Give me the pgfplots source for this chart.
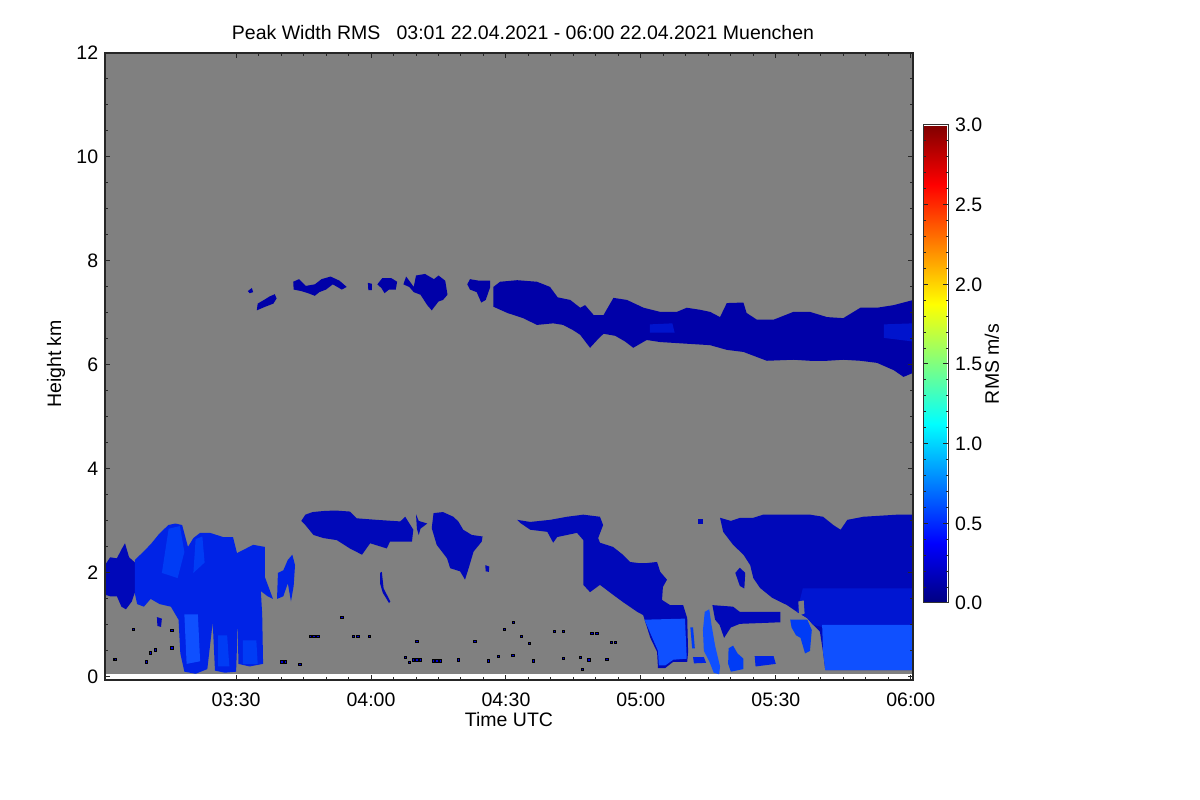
\documentclass[border=0pt]{standalone}
\usepackage{fontspec}
\setmainfont{Liberation Sans}
\usepackage{pgfplots}
\pgfplotsset{compat=1.18}
\pgfplotsset{/pgf/number format/assume math mode=true}
\definecolor{bg}{RGB}{128,128,128}
\definecolor{cUp}{RGB}{0,0,168}
\definecolor{cUpL}{RGB}{0,20,205}
\definecolor{cDk}{RGB}{0,8,185}
\definecolor{cMid}{RGB}{0,35,230}
\definecolor{cMidR}{RGB}{0,22,210}
\definecolor{cMid2}{RGB}{0,60,245}
\definecolor{cLt}{RGB}{15,80,255}
\definecolor{cSpk}{RGB}{0,0,215}
\newcommand{\fs}{\fontsize{11.7}{14}\selectfont}
\begin{document}
\fs
\begin{tikzpicture}[x=0.6pt,y=0.6pt]
\path[use as bounding box] (0,0) rectangle (1200,800);
\begin{axis}[
  at={(63pt,72pt)}, anchor=south west,
  width=484.8pt, height=376.2pt, scale only axis,
  xmin=0.85, xmax=180.5, ymin=-0.06, ymax=12,
  axis on top,
  axis line style={line width=0.7pt, black!85},
  tick style={black!85, line width=0.6pt},
  major tick length=3pt, minor tick length=1.8pt,
  xtick={30,60,90,120,150,180},
  xticklabels={03:30,04:00,04:30,05:00,05:30,06:00},
  xticklabel style={yshift=-3.5pt},
  minor x tick num=5,
  ytick={0,2,4,6,8,10,12},
  minor y tick num=3,
  tick label style={font=\fs},
  point meta min=0, point meta max=3,
  colormap/jet,
  colorbar,
  colorbar style={
    at={(parent axis.north east)}, anchor=north west,
    xshift=-2.4pt, yshift=-43.2pt,
    width=15pt, height=286.8pt, scale only axis,
    ytick={0,0.5,1,1.5,2,2.5,3},
    minor y tick num=4,
    major tick length=3pt, minor tick length=1.5pt,
    axis line style={line width=0.6pt, black!80},
    yticklabel style={font=\fs,
      /pgf/number format/.cd, fixed, fixed zerofill, precision=1, assume math mode=true},
  },
]
% background
\addplot[fill=bg, draw=none] coordinates {(0,0.06) (181,0.06) (181,12.2) (0,12.2)} -- cycle;

% ---------- upper layer ----------
\addplot[fill=cUp, draw=none] coordinates {
(87.2,7.50) (88.7,7.60) (92.5,7.63) (96.9,7.60) (99.8,7.50) (101.5,7.30) (104.3,7.25) (106.5,7.10) (107.6,7.15) (109.5,6.96) (111.7,6.96) (113.9,7.29) (116.9,7.25) (120.6,7.10) (124.3,7.02) (128.0,7.02) (130.2,7.10) (133.2,7.06) (135.4,7.02) (137.6,6.92) (139.1,7.19) (142.8,7.20) (143.5,7.00) (145.8,6.87) (149.5,6.87) (153.9,7.02) (157.6,7.02) (161.4,6.92) (165.0,6.90) (168.8,7.10) (172.5,7.10) (176.2,7.15) (180.6,7.25)
(180.6,5.85) (178.4,5.77) (176.2,5.90) (172.5,6.04) (168.8,6.08) (165.0,6.10) (161.4,6.08) (157.6,6.08) (153.9,6.10) (148.0,6.08) (142.8,6.25) (139.1,6.29) (135.4,6.38) (131.7,6.40) (128.0,6.42) (124.3,6.44) (121.3,6.48) (118.3,6.33) (116.5,6.45) (114.3,6.56) (111.7,6.60) (110.5,6.50) (108.7,6.33) (106.5,6.58) (104.9,6.67) (102.7,6.77) (100.5,6.80) (96.9,6.77) (93.8,6.90) (90.3,7.00) (87.2,7.12)} -- cycle;
\addplot[fill=cUpL, draw=none] coordinates {(122,6.78) (127,6.80) (127.5,6.62) (122,6.62)} -- cycle;
\addplot[fill=cUpL, draw=none] coordinates {(174,6.78) (180.6,6.80) (180.6,6.45) (174,6.52)} -- cycle;
\addplot[fill=cUp, draw=none] coordinates {(34.6,7.05) (34.8,7.18) (36.2,7.25) (37.5,7.32) (38.6,7.36) (39.0,7.28) (38.3,7.18) (36.5,7.12)} -- cycle;
\addplot[fill=cUp, draw=none] coordinates {(32.6,7.42) (33.5,7.48) (33.8,7.40) (33.0,7.38)} -- cycle;
\addplot[fill=cUp, draw=none] coordinates {(42.7,7.60) (44.0,7.65) (45.5,7.52) (47.5,7.55) (49.0,7.65) (51.0,7.70) (53.0,7.62) (54.6,7.50) (53.5,7.45) (51.5,7.55) (50.0,7.45) (48.5,7.40) (47.5,7.33) (46.0,7.38) (44.5,7.42) (42.8,7.45)} -- cycle;
\addplot[fill=cUp, draw=none] coordinates {(59.3,7.58) (60.2,7.56) (60.2,7.44) (59.4,7.44)} -- cycle;
\addplot[fill=cUp, draw=none] coordinates {(61.4,7.55) (62.5,7.67) (64.5,7.67) (65.8,7.60) (65.5,7.45) (64.0,7.45) (63.0,7.38) (62.3,7.48)} -- cycle;
\addplot[fill=cUp, draw=none] coordinates {(67.2,7.55) (67.8,7.70) (68.5,7.62) (69.5,7.50) (70.0,7.72) (72.0,7.75) (74.0,7.65) (75.0,7.72) (76.5,7.62) (77.0,7.35) (76.0,7.25) (75.0,7.22) (73.5,7.05) (72.5,7.15) (71.0,7.35) (69.5,7.40) (68.5,7.50)} -- cycle;
\addplot[fill=cUp, draw=none] coordinates {(81.4,7.55) (82.0,7.65) (84.0,7.62) (86.5,7.62) (86.5,7.50) (85.5,7.25) (84.5,7.20) (83.5,7.40) (82.0,7.45)} -- cycle;

% ---------- lower left cluster ----------
\addplot[fill=cDk, draw=none] coordinates {(0.85,1.58) (0.85,2.15) (2.0,2.30) (3.5,2.28) (4.5,2.45) (5.3,2.57) (6.2,2.30) (7.5,2.20) (7.8,1.70) (6.8,1.45) (5.5,1.30) (4.5,1.35) (3.5,1.55) (2.0,1.55)} -- cycle;
\addplot[fill=cMid, draw=none] coordinates {(7.5,1.60) (7.5,2.25) (9.3,2.40) (11.0,2.55) (12.7,2.73) (14.9,2.92) (16.5,2.95) (18.0,2.92) (19.3,2.50) (20.5,2.67) (22.0,2.77) (24.2,2.77) (27.1,2.69) (29.3,2.69) (30.2,2.38) (33.8,2.54) (36.4,2.50) (36.4,1.92) (38.2,1.50) (37.0,1.55) (35.5,1.65) (35.8,1.20) (36.0,0.25) (33.0,0.20) (30.5,0.25) (30.4,1.10) (30.0,0.10) (27.5,0.08) (25.3,0.12) (24.8,1.05) (23.6,0.15) (21.0,0.06) (18.5,0.10) (17.6,0.45) (17.2,1.10) (15.5,1.35) (13.0,1.40) (11.0,1.50) (9.5,1.35) (8.0,1.40)} -- cycle;
\addplot[fill=cLt, draw=none] coordinates {(18.5,1.20) (21.5,1.20) (22.0,0.30) (19.0,0.25)} -- cycle;
\addplot[fill=cMid2, draw=none] coordinates {(26.0,0.80) (28.0,0.80) (28.5,0.20) (26.0,0.20)} -- cycle;
\addplot[fill=cMid2, draw=none] coordinates {(31.5,0.70) (34.5,0.70) (34.8,0.25) (31.5,0.25)} -- cycle;
\addplot[fill=cMid2, draw=none] coordinates {(13.5,2.00) (15.0,2.85) (17.5,2.90) (18.5,2.40) (17.0,1.90)} -- cycle;
\addplot[fill=cMid2, draw=none] coordinates {(20.5,2.00) (21.0,2.65) (22.5,2.70) (23.0,2.20)} -- cycle;
\addplot[fill=cMid, draw=none] coordinates {(39.1,1.50) (39.3,2.00) (40.5,2.05) (41.5,2.25) (42.5,2.35) (43.1,2.15) (42.8,1.75) (42.2,1.45) (41.5,1.80) (40.5,1.55)} -- cycle;
\addplot[fill=cDk, draw=none] coordinates {(12.4,1.15) (13.5,1.12) (13.3,0.96) (12.5,0.98)} -- cycle;

% ---------- lower middle ----------
\addplot[fill=cDk, draw=none] coordinates {(44.5,3.00) (45.4,3.12) (47.0,3.17) (49.4,3.19) (52.0,3.20) (55.3,3.18) (56.8,3.05) (61.3,3.02) (66.5,2.99) (67.6,3.08) (69.4,2.83) (69.1,2.60) (64.2,2.60) (63.5,2.47) (59.8,2.57) (58.0,2.35) (55.3,2.47) (52.4,2.63) (49.4,2.67) (47.2,2.73) (45.4,2.92)} -- cycle;
\addplot[fill=cDk, draw=none] coordinates {(70.0,3.13) (70.6,3.00) (72.5,2.95) (71.0,2.85) (70.6,2.73) (70.2,2.85)} -- cycle;
\addplot[fill=cDk, draw=none] coordinates {(73.9,3.15) (76.0,3.17) (78.3,3.08) (79.4,2.99) (80.5,2.83) (82.4,2.73) (84.8,2.70) (84.6,2.60) (82.8,2.41) (81.7,2.09) (80.9,1.87) (79.8,2.03) (77.6,2.09) (76.9,2.28) (74.6,2.54) (73.5,2.86)} -- cycle;
\addplot[fill=cDk, draw=none] coordinates {(85.4,2.15) (86.3,2.12) (86.2,2.02) (85.5,2.03)} -- cycle;
\addplot[fill=cDk, draw=none] coordinates {(62.0,2.00) (62.4,2.02) (62.8,1.70) (64.3,1.45) (64.0,1.42) (62.6,1.62) (62.0,1.80)} -- cycle;
\addplot[fill=cDk, draw=none] coordinates {(92.5,3.02) (95.4,2.98) (99.8,3.02) (103.6,3.08) (107.2,3.12) (110.9,3.08) (111.6,2.92) (110.5,2.67) (110.9,2.58) (113.8,2.50) (116.0,2.35) (117.6,2.21) (119.4,2.19) (121.4,2.19) (123.6,2.21) (124.3,2.02) (125.8,1.87) (124.9,1.73) (124.7,1.48) (126.5,1.38) (129.4,1.38) (130.3,1.13) (130.5,0.48) (130.3,0.29) (127.2,0.29) (125.4,0.17) (123.8,0.17) (123.6,0.48) (122.1,0.75) (120.5,1.19) (119.2,1.25) (116.0,1.44) (113.8,1.58) (110.9,1.77) (108.7,1.63) (107.2,1.77) (107.2,2.63) (105.8,2.77) (101.4,2.69) (100.5,2.58) (99.2,2.79) (95.4,2.83) (93.2,2.96)} -- cycle;
\addplot[fill=cLt, draw=none] coordinates {(120.8,1.10) (129.8,1.12) (130.2,0.35) (127.2,0.33) (125.4,0.22) (124.0,0.22) (123.8,0.50) (122.3,0.80)} -- cycle;

% ---------- lower right ----------
\addplot[fill=cMid2, draw=none] coordinates {(131.0,0.95) (131.6,0.95) (132.0,0.55) (131.4,0.55)} -- cycle;
\addplot[fill=cLt, draw=none] coordinates {(134.2,1.25) (135.2,1.30) (135.7,1.00) (136.5,0.60) (137.6,0.20) (137.4,0.05) (136.2,0.08) (135.2,0.30) (134.0,0.50) (133.8,0.90)} -- cycle;
\addplot[fill=cMid, draw=none] coordinates {(131.6,0.38) (134.0,0.38) (134.5,0.27) (131.8,0.26)} -- cycle;
\addplot[fill=cDk, draw=none] coordinates {(135.9,1.38) (140.5,1.35) (142.0,1.25) (151.0,1.25) (151.0,1.05) (142.0,1.02) (140.0,0.95) (138.5,0.75) (137.5,1.00) (136.5,1.10)} -- cycle;
\addplot[fill=cMid2, draw=none] coordinates {(139.5,0.55) (140.5,0.60) (141.5,0.45) (142.8,0.35) (142.8,0.15) (140.0,0.10) (139.4,0.25)} -- cycle;
\addplot[fill=cMid, draw=none] coordinates {(145.3,0.40) (149.5,0.40) (150.0,0.25) (145.5,0.20)} -- cycle;
\addplot[fill=cDk, draw=none] coordinates {(141.0,2.00) (142.0,2.10) (143.2,2.00) (143.0,1.70) (142.0,1.75)} -- cycle;
\addplot[fill=cDk, draw=none] coordinates {(132.7,3.04) (133.8,3.04) (133.8,2.94) (132.7,2.94)} -- cycle;
\addplot[fill=cDk, draw=none] coordinates {(137.6,3.06) (140.0,3.00) (142.1,3.06) (145.0,3.06) (147.2,3.12) (154.7,3.12) (157.6,3.12) (160.5,3.08) (162.8,2.92) (164.4,2.83) (165.9,3.02) (169.5,3.08) (177.0,3.12) (180.6,3.12) (180.6,0.13) (161.0,0.13) (160.5,0.48) (159.8,0.87) (158.3,1.00) (157.0,1.13) (154.7,1.25) (152.5,1.38) (149.2,1.52) (146.5,1.71) (145.0,1.90) (144.3,2.15) (142.8,2.35) (140.5,2.54) (138.3,2.79)} -- cycle;
\addplot[fill=cMidR, draw=none] coordinates {(156,1.70) (180.6,1.70) (180.6,0.96) (160.3,0.96) (158.3,1.00) (157.0,1.13) (154.7,1.25)} -- cycle;
\addplot[fill=cLt, draw=none] coordinates {(160.3,1.00) (180.6,1.00) (180.6,0.13) (161.0,0.13) (160.5,0.48)} -- cycle;
\addplot[fill=bg, draw=none] coordinates {(155.0,1.45) (156.2,1.47) (156.4,1.22) (155.2,1.18)} -- cycle;
\addplot[fill=cMid2, draw=none] coordinates {(153.2,1.10) (157.0,1.10) (158.0,0.90) (157.6,0.50) (156.5,0.45) (155.5,0.75) (154.5,0.80) (153.5,0.95)} -- cycle;

% ---------- specks ----------
\addplot[only marks, mark=square*, mark size=0.7pt, mark options={draw=none, fill=cSpk}] coordinates {
(53.5,1.15) (46.5,0.78) (47.3,0.78) (48.2,0.78) (56.0,0.78) (57.1,0.78) (59.6,0.78) (70.2,0.68) (83.1,0.68) (91.7,1.05) (89.7,0.92) (93.4,0.78) (95.2,0.65) (100.7,0.87) (102.7,0.87) (109.1,0.84) (110.2,0.84) (113.5,0.66) (114.3,0.66) (44.2,0.24) (67.6,0.37) (69.4,0.33) (70.2,0.33) (70.9,0.33) (73.8,0.31) (74.6,0.31) (75.4,0.31) (79.4,0.33) (86.1,0.31) (88.3,0.40) (91.5,0.42) (96.1,0.31) (102.8,0.36) (106.5,0.37) (108.4,0.33) (112.4,0.34) (107.0,0.15) (68.5,0.28) (2.9,0.34) (10.9,0.46) (10.1,0.29) (12.0,0.52) (15.7,0.56) (40.2,0.29) (41.0,0.29) (7.1,0.92) (3.1,0.34) (15.7,0.90)};
\end{axis}
\node[anchor=base] at (523,760) {Peak Width RMS\ \ \ 03:01 22.04.2021 - 06:00 22.04.2021 Muenchen};
\node[rotate=90] at (56,436) {Height km};
\node at (509,80) {Time UTC};
\node[rotate=90] at (992,436) {RMS m/s};
\end{tikzpicture}
\end{document}
